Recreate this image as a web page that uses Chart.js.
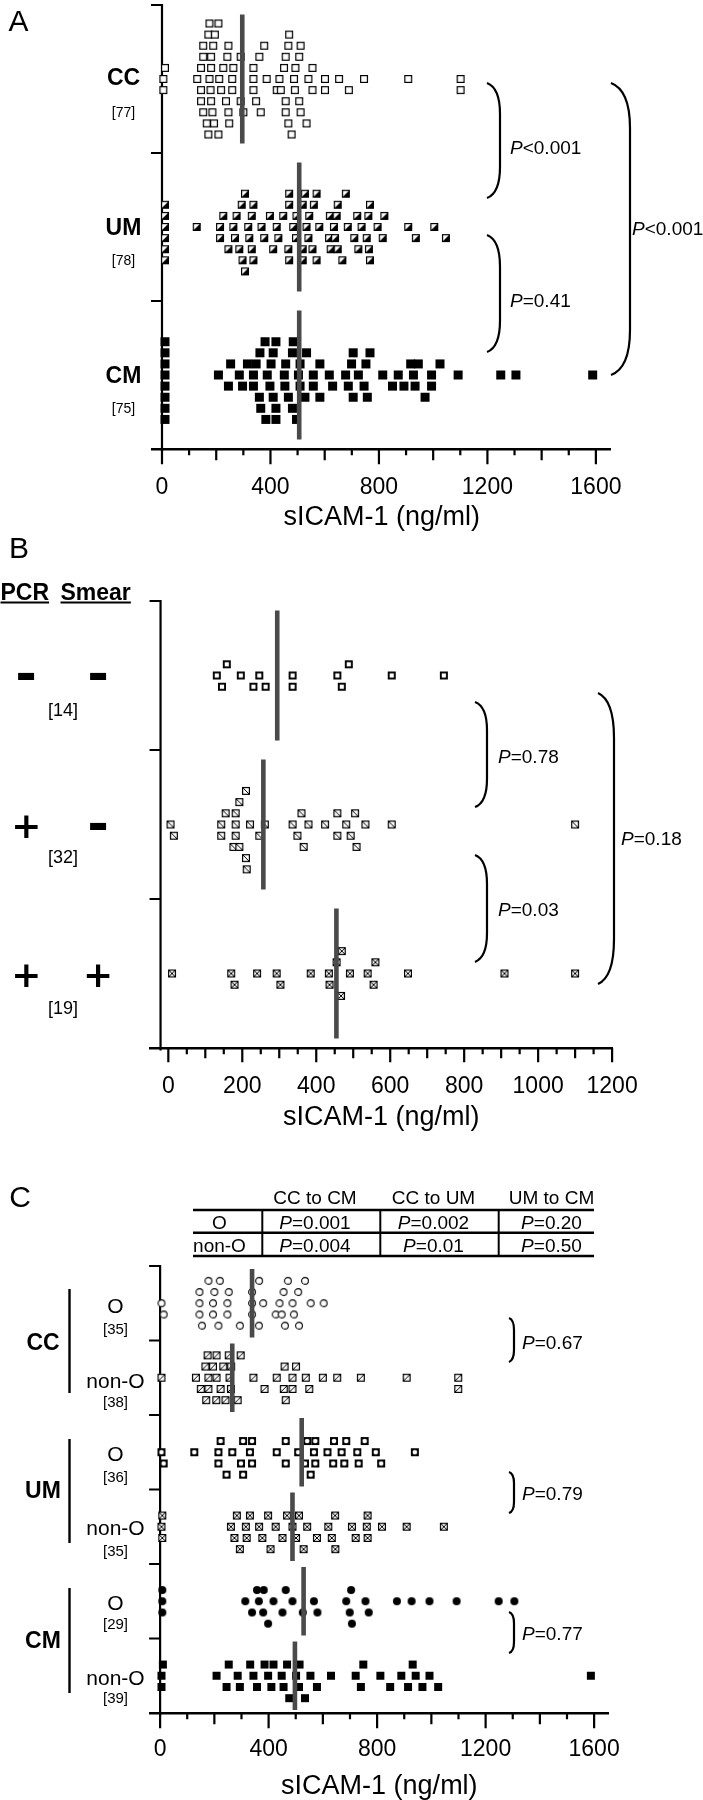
<!DOCTYPE html>
<html><head><meta charset="utf-8"><title>sICAM-1</title>
<script src="https://cdn.jsdelivr.net/npm/chart.js@4.4.1/dist/chart.umd.min.js"></script>
<style>
html,body{margin:0;padding:0;background:#fff}
body{position:relative;width:703px;height:1800px;overflow:hidden;font-family:'Liberation Sans',Arial,Helvetica,sans-serif;color:#000}
canvas{position:absolute;left:0}
.c,.l{position:absolute;white-space:nowrap;line-height:1}
.c{transform:translate(-50%,-50%)}
.l{transform:translate(0,-50%)}
.sign{font-family:'DejaVu Sans',sans-serif;font-weight:bold}
</style></head>
<body>
<canvas id="panelA" width="703" height="531" style="top:0px"></canvas>
<canvas id="panelB" width="703" height="571" style="top:560px"></canvas>
<canvas id="panelC" width="703" height="660" style="top:1140px"></canvas>
<script>
// ================= DATA =================
const axisTitle = 'sICAM-1 (ng/ml)';

// Panel A
const groupsA = ['CC', 'UM', 'CM'];
const countsA = [77, 78, 75];
const ccA = [175,208,469,171,195,259,466,152,189,245,377,456,511,152,179,241,300,359,450,506,555,11,144,181,226,290,337,433,492,540,653,5,130,175,211,263,337,423,478,533,601,689,745,908,1101,5,144,181,218,290,337,438,487,555,601,1101,144,181,236,347,456,490,152,186,245,364,456,506,165,192,248,386,466,511,171,208,259];
const umA = [533,665,306,337,469,519,580,648,11,245,294,331,469,519,570,638,724,767,11,214,275,322,398,429,496,555,622,709,761,814,936,11,128,214,263,318,367,423,484,543,616,678,736,795,908,1004,11,226,269,331,377,447,494,560,619,685,755,820,1047,11,285,337,410,466,519,570,634,720,763,11,297,469,527,644,767,306,540,648];
const cmA = [398,11,383,451,496,11,337,364,420,481,533,617,705,767,970,11,245,297,361,410,466,509,582,699,752,892,933,1025,11,208,285,347,402,456,509,558,629,687,745,814,871,927,994,1092,1249,1305,1588,11,253,315,359,410,481,527,582,677,705,757,850,917,945,994,11,337,380,420,484,558,724,11,388,420,503,11,453];
const mediansA = [296, 506, 506];
const pLabelsA = ['P<0.001', 'P=0.41', 'P<0.001'];
const ticksA = [0, 400, 800, 1200, 1600];

// Panel B
const signsB = [['-', '-'], ['+', '-'], ['+', '+']];
const headB = ['PCR', 'Smear'];
const countsB = [14, 32, 19];
const negNegB = [158,263,469,131,196,246,336,457,604,745,145,230,336,488];
const posNegB = [221,210,176,192,366,143,182,349,457,505,6,143,182,246,336,379,424,481,533,604,1100,15,155,192,261,360,457,493,182,210,509,212];
const posPosB = [469,303,455,560,10,170,240,293,385,434,491,539,648,909,1100,179,436,555,467];
const mediansB = [294.5, 257, 454.5];
const pLabelsB = ['P=0.78', 'P=0.03', 'P=0.18'];
const ticksB = [0, 200, 400, 600, 800, 1000, 1200];

// Panel C
const groupsC = ['CC', 'UM', 'CM'];
const subgroupsC = ['O', 'non-O'];
const countsC = [35, 38, 36, 35, 29, 39];
const ccOC = [154,215,294,365,455,512,145,195,248,339,448,493,5,145,195,248,339,380,440,488,534,603,13,145,200,253,339,426,460,509,555,178,220,364,471];
const ccNonOC = [178,208,241,297,463,167,195,223,261,456,501,600,5,132,170,207,256,344,430,488,550,653,740,909,1099,150,178,208,253,385,459,488,1099,175,233,286,537,262];
const umOC = [245,555,679,215,306,339,463,534,572,641,732,815,5,126,215,266,331,430,509,572,638,727,795,939,13,223,298,339,463,542,617,669,754,306,567,686];
const umNonOC = [407,8,283,319,377,468,512,578,646,721,765,5,261,316,365,426,488,542,620,707,762,818,909,1046,8,274,331,398,451,501,633,765,294,529,645];
const cmOC = [418,704,8,357,382,488,699,8,314,380,451,526,580,686,757,873,927,993,1093,1248,1306,8,339,398,463,567,707,769,364];
const cmNonOC = [501,10,253,332,385,418,476,534,740,848,931,993,5,208,286,344,398,455,512,578,630,721,812,889,967,1025,1588,5,245,294,357,410,468,514,749,914,448,554,942];
const mediansC = [339, 266, 522, 488, 529, 497];
const pLabelsC = ['P=0.67', 'P=0.79', 'P=0.77'];
const tableHeadC = ['CC to CM', 'CC to UM', 'UM to CM'];
const tableRowsC = [['O', 'P=0.001', 'P=0.002', 'P=0.20'], ['non-O', 'P=0.004', 'P=0.01', 'P=0.50']];
const ticksC = [0, 400, 800, 1200, 1600];

// ================= HELPERS =================
const FONT = "'Liberation Sans', Arial, Helvetica, sans-serif";
Chart.defaults.font.family = FONT;
Chart.defaults.color = '#000';

// column-scatter layout: values binned, smallest at centre, alternating below/above
function swarm(values, center, binUnits, cap, step) {
  const s = values.slice().sort((a, b) => a - b);
  const out = [];
  let i = 0;
  while (i < s.length) {
    const start = s[i];
    let k = 0;
    while (i < s.length && s[i] - start <= binUnits && k < cap) {
      const lvl = k === 0 ? 0 : (k % 2 ? (k + 1) / 2 : -k / 2);
      out.push({ x: s[i], y: center + lvl * step });
      i++; k++;
    }
  }
  return out;
}

function marker(kind, s) {
  const p = 2, n = s + 2 * p;
  const c = document.createElement('canvas');
  c.width = n; c.height = n;
  const g = c.getContext('2d');
  const a = p, b = p + s;
  g.fillStyle = '#fff'; g.strokeStyle = '#000';
  const sq = () => g.fillRect(a, a, s, s);
  const border = w => { g.lineWidth = w; g.strokeRect(a + w / 2, a + w / 2, s - w, s - w); };
  const ln = (x1, y1, x2, y2) => { g.lineWidth = 1; g.beginPath(); g.moveTo(x1, y1); g.lineTo(x2, y2); g.stroke(); };
  if (kind === 'open') { sq(); border(1.2); }
  else if (kind === 'openThick') { sq(); border(1.9); }
  else if (kind === 'solid') { g.fillStyle = '#000'; sq(); }
  else if (kind === 'half') { sq(); g.fillStyle = '#000'; g.beginPath(); g.moveTo(b, a); g.lineTo(b, b); g.lineTo(a, b); g.closePath(); g.fill(); border(1.2); }
  else if (kind === 'back') { sq(); border(1.2); ln(a + 1, a + 1, b - 1, b - 1); }
  else if (kind === 'slash') { sq(); border(1.2); ln(a + 1, b - 1, b - 1, a + 1); }
  else if (kind === 'cross') { sq(); border(1.2); ln(a + 1, a + 1, b - 1, b - 1); ln(a + 1, b - 1, b - 1, a + 1); }
  else if (kind === 'sqdot') { g.fillStyle = '#000'; sq(); g.fillStyle = '#fff'; g.beginPath(); g.arc(n / 2, n / 2, s / 2 - 1.7, 0, Math.PI * 2); g.fill(); }
  else if (kind === 'circle') { g.beginPath(); g.arc(n / 2, n / 2, s / 2 - 0.6, 0, Math.PI * 2); g.fill(); g.lineWidth = 1.1; g.stroke(); }
  else if (kind === 'dot') { g.fillStyle = '#000'; g.beginPath(); g.arc(n / 2, n / 2, s / 2, 0, Math.PI * 2); g.fill(); }
  return c;
}

function bracket(ctx, xl, xr, y1, y2) {
  const h = y2 - y1, c = Math.min(h * 0.27, 45), w = xr - xl;
  ctx.beginPath();
  ctx.moveTo(xl, y1);
  ctx.bezierCurveTo(xl + w * 0.75, y1 + c * 0.12, xr, y1 + c * 0.5, xr, y1 + c);
  ctx.lineTo(xr, y2 - c);
  ctx.bezierCurveTo(xr, y2 - c * 0.5, xl + w * 0.75, y2 - c * 0.12, xl, y2);
  ctx.stroke();
}

function decor(o) {
  return {
    id: 'decor',
    beforeDatasetsDraw(chart) {
      const { ctx, chartArea: a, scales: { x, y } } = chart;
      ctx.save();
      ctx.strokeStyle = '#000'; ctx.lineWidth = 2.2; ctx.lineCap = 'butt';
      const ax = x.getPixelForValue(o.yAxisAt);
      ctx.beginPath();
      ctx.moveTo(ax, a.top - 1.1); ctx.lineTo(ax, a.bottom + 2.5);
      for (let k = 0; k < o.rows; k++) {
        const py = y.getPixelForValue(k + 0.5);
        ctx.moveTo(ax - 11, py); ctx.lineTo(ax + 1.1, py);
      }
      ctx.stroke();
      const labStep = o.ticks[1] - o.ticks[0];
      const last = o.ticks[o.ticks.length - 1];
      ctx.beginPath();
      for (let v = 0; v <= last + 1e-6; v += o.minorStep) {
        const len = v % labStep === 0 ? o.tickLens[0] : (v % (o.minorStep * 2) === 0 ? o.tickLens[1] : o.tickLens[2]);
        const px = x.getPixelForValue(v);
        ctx.moveTo(px, a.bottom); ctx.lineTo(px, a.bottom + 1.25 + len);
      }
      ctx.stroke();
      ctx.restore();
    },
    afterDraw(chart) {
      const ctx = chart.ctx;
      ctx.save();
      ctx.strokeStyle = '#000'; ctx.lineWidth = 2.2;
      (o.brackets || []).forEach(b => bracket(ctx, b[0], b[1], b[2] - o.top, b[3] - o.top));
      (o.lines || []).forEach(l => {
        ctx.lineWidth = l[4]; ctx.beginPath();
        ctx.moveTo(l[0], l[1] - o.top); ctx.lineTo(l[2], l[3] - o.top); ctx.stroke();
      });
      ctx.restore();
    }
  };
}

function makePanel(o) {
  const canvas = document.getElementById(o.id);
  const datasets = [];
  o.groups.forEach((g, i) => {
    datasets.push({
      data: swarm(g.values, i + 1, o.bin, o.cap, o.step),
      pointStyle: g.marker, pointRadius: 4, order: 2, clip: false
    });
  });
  o.medians.forEach((m, i) => {
    datasets.push({
      data: [{ x: m, y: i + 1 - o.medHalf }, { x: m, y: i + 1 + o.medHalf }],
      showLine: true, borderColor: '#4a4a4a', borderWidth: 4.6, borderCapStyle: 'butt',
      pointRadius: 0, order: 1, clip: false
    });
  });
  return new Chart(canvas, {
    type: 'scatter',
    data: { datasets },
    options: {
      responsive: false, animation: false, devicePixelRatio: 1, events: [],
      layout: { padding: { left: o.left, right: 703 - o.right, top: o.padTop, bottom: 0 } },
      plugins: { legend: { display: false }, tooltip: { enabled: false } },
      scales: {
        x: {
          type: 'linear', position: 'bottom', min: o.xmin, max: o.xmax,
          afterBuildTicks: s => { s.ticks = o.ticks.map(v => ({ value: v })); },
          afterFit: s => { s.height = o.scaleH; },
          ticks: { font: { size: 23, lineHeight: 1 }, color: '#000', padding: o.labelPad, maxRotation: 0, autoSkip: false, callback: v => String(v) },
          grid: { drawOnChartArea: false, drawTicks: false },
          border: { display: true, color: '#000', width: 2.5 },
          title: { display: true, text: axisTitle, font: { size: 27, lineHeight: 1 }, color: '#000', padding: 0 }
        },
        y: { type: 'linear', min: 0.5, max: o.rows + 0.5, reverse: true, display: false }
      }
    },
    plugins: [decor(o)]
  });
}

// ================= CHARTS =================
makePanel({
  id: 'panelA', top: 0, padTop: 1, left: 152.5, right: 610.8, xmin: -35, xmax: 1655,
  scaleH: 82, labelPad: 27, rows: 3, yAxisAt: 0, minorStep: 100, tickLens: [14, 10, 5],
  bin: 46, cap: 11, step: 0.075, medHalf: 0.435, ticks: ticksA, medians: mediansA,
  groups: [
    { values: ccA, marker: marker('open', 8) },
    { values: umA, marker: marker('half', 8) },
    { values: cmA, marker: marker('solid', 9) }
  ],
  brackets: [[487, 500, 83, 198], [487, 500, 235, 352], [611, 630, 83, 375]]
});

makePanel({
  id: 'panelB', top: 560, padTop: 41, left: 150.2, right: 612.1, xmin: -49, xmax: 1200,
  scaleH: 83, labelPad: 27, rows: 3, yAxisAt: -21, minorStep: 50, tickLens: [13, 9, 5],
  bin: 35, cap: 9, step: 0.0752, medHalf: 0.436, ticks: ticksB, medians: mediansB,
  groups: [
    { values: negNegB, marker: marker('openThick', 8) },
    { values: posNegB, marker: marker('back', 8) },
    { values: posPosB, marker: marker('cross', 8) }
  ],
  brackets: [[475, 487, 702, 807], [475, 487, 855, 962], [598, 614, 693, 984]]
});

makePanel({
  id: 'panelC', top: 1140, padTop: 126, left: 150.2, right: 608.5, xmin: -36.5, xmax: 1653,
  scaleH: 87, labelPad: 25.5, rows: 6, yAxisAt: 0, minorStep: 100, tickLens: [14, 10, 5],
  bin: 46, cap: 5, step: 0.1503, medHalf: 0.46, ticks: ticksC, medians: mediansC,
  groups: [
    { values: ccOC, marker: marker('circle', 8) },
    { values: ccNonOC, marker: marker('slash', 8) },
    { values: umOC, marker: marker('sqdot', 8) },
    { values: umNonOC, marker: marker('cross', 8) },
    { values: cmOC, marker: marker('dot', 8) },
    { values: cmNonOC, marker: marker('solid', 8) }
  ],
  brackets: [[509, 514, 1318, 1362], [509, 514, 1472, 1513], [509, 514, 1612, 1653]],
  lines: [
    [69.5, 1289, 69.5, 1393, 2.4], [69.5, 1439, 69.5, 1543, 2.4], [69.5, 1588, 69.5, 1693, 2.4],
    [193, 1210, 594, 1210, 2.6], [193, 1232.7, 594, 1232.7, 2.4], [193, 1256, 594, 1256, 2.6],
    [262.3, 1210, 262.3, 1256, 2], [380.3, 1210, 380.3, 1256, 2], [498.7, 1210, 498.7, 1256, 2]
  ]
});

// ================= TEXT =================
function addText(str, x, y, css, cls) {
  const d = document.createElement('div');
  d.className = cls || 'c';
  d.style.cssText = 'left:' + x + 'px;top:' + y + 'px;' + (css || '');
  d.textContent = str;
  document.body.appendChild(d);
  return d;
}
function addP(str, x, y, size, cls) {
  const d = addText('', x, y, 'font-size:' + size + 'px', cls || 'l');
  const i = document.createElement('i');
  i.textContent = str[0];
  d.appendChild(i);
  d.appendChild(document.createTextNode(str.slice(1)));
  return d;
}

// panel letters
addText('A', 18.5, 21, 'font-size:30px');
addText('B', 19, 548, 'font-size:30px');
addText('C', 20, 1197, 'font-size:30px');

// Panel A labels
const rowYA = [76.7, 226.7, 375];
const nYA = [111.7, 260, 408.3];
groupsA.forEach((g, i) => {
  addText(g, 123.5, rowYA[i], 'font-size:23px;font-weight:bold');
  addText('[' + countsA[i] + ']', 123.5, nYA[i], 'font-size:14px');
});
addP(pLabelsA[0], 510, 147, 19);
addP(pLabelsA[1], 510, 300, 19);
addP(pLabelsA[2], 632, 228, 19);

// Panel B labels
addText(headB[0], 0.5, 591.7, 'font-size:23px;font-weight:bold;text-decoration:underline;text-decoration-thickness:2px;text-underline-offset:2px', 'l');
addText(headB[1], 60.5, 591.7, 'font-size:23px;font-weight:bold;text-decoration:underline;text-decoration-thickness:2px;text-underline-offset:2px', 'l');
const rowYB = [675.5, 825.5, 975.2];
const nYB = [709.5, 856.7, 1007.7];
signsB.forEach((pair, i) => {
  [26.3, 98.1].forEach((sx, j) => {
    const d = addText(pair[j], sx, rowYB[i], 'font-size:36px', 'c sign');
    if (pair[j] === '-') d.style.transform = 'translate(-50%,-54%) scale(1.45,1.4)';
  });
  addText('[' + countsB[i] + ']', 63, nYB[i], 'font-size:18px');
});
addP(pLabelsB[0], 498, 756, 19);
addP(pLabelsB[1], 498, 908.5, 19);
addP(pLabelsB[2], 621, 838, 19);

// Panel C labels
const grpYC = [1341.7, 1490, 1640];
groupsC.forEach((g, i) => addText(g, 43, grpYC[i], 'font-size:23px;font-weight:bold'));
const subYC = [1305, 1380, 1452.7, 1526.7, 1601.7, 1676.7];
const subNYC = [1328, 1401, 1476, 1550, 1623.3, 1697.3];
countsC.forEach((n, i) => {
  addText(subgroupsC[i % 2], 115.5, subYC[i], 'font-size:21px');
  addText('[' + n + ']', 115.5, subNYC[i], 'font-size:15px');
});
addP(pLabelsC[0], 522, 1342, 19);
addP(pLabelsC[1], 522, 1493, 19);
addP(pLabelsC[2], 522, 1633, 19);

// Panel C table
const colXC = [315, 433.5, 551.5];
tableHeadC.forEach((h, j) => addText(h, colXC[j], 1196.7, 'font-size:19px'));
const rowYT = [1221.7, 1245];
tableRowsC.forEach((r, i) => {
  addText(r[0], 219.5, rowYT[i], 'font-size:19px');
  r.slice(1).forEach((v, j) => addP(v, colXC[j], rowYT[i], 19, 'c'));
});
</script>
</body></html>
